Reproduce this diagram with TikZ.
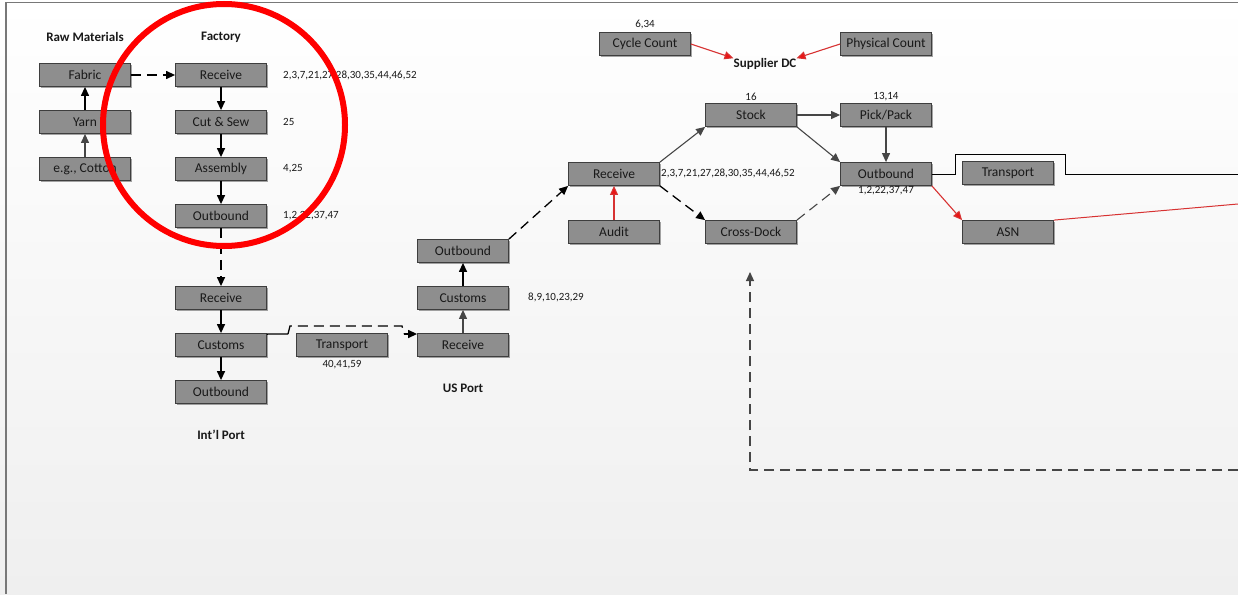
\documentclass[tikz,border=0pt]{standalone}
\usepackage{fontspec}
\setmainfont{Carlito}
\usetikzlibrary{arrows.meta,shadows}
\definecolor{boxfill}{RGB}{142,142,142}
\definecolor{boxdraw}{RGB}{62,62,62}
\definecolor{txt}{RGB}{25,25,25}
\definecolor{lgray}{RGB}{70,70,70}
\definecolor{thin}{RGB}{95,95,95}
\definecolor{redln}{RGB}{215,50,50}
\definecolor{redhd}{RGB}{235,20,20}
\definecolor{bgbot}{RGB}{239,239,239}
\definecolor{framecol}{RGB}{120,120,120}
\tikzset{
  box/.style={draw=boxdraw, fill=boxfill, line width=0.8pt, minimum width=91pt, minimum height=23pt, inner sep=0pt,
    text=txt, font=\fontsize{13.5}{15}\selectfont,
    drop shadow={shadow xshift=1.2pt, shadow yshift=-1.2pt, opacity=0.35, fill=black}},
  num/.style={text=txt, font=\fontsize{11}{12}\selectfont, inner sep=0pt},
  hdr/.style={text=txt, font=\fontsize{13}{15}\selectfont\bfseries, inner sep=1pt},
  tip/.style={-{Triangle[length=9pt,width=8pt]}},
  blk/.style={tip, draw=black, line width=1.3pt},
  gry/.style={tip, draw=lgray, line width=1.1pt},
  rdl/.style={-{Triangle[length=9pt,width=8pt,fill=redhd]}, draw=redln, line width=1.1pt},
  dsh/.style={dash pattern=on 10pt off 6pt},
}
\begin{document}
\begin{tikzpicture}[x=1pt,y=-1pt]
\useasboundingbox (0,0) rectangle (1238,594);
\shade[top color=white, bottom color=bgbot] (0,0) rectangle (1238,594);
\draw[framecol, line width=1.6pt] (6,594) -- (6,2.5) -- (1238,2.5);

% Raw materials
\node[hdr] (hraw) at (85,37) {Raw Materials};
\node[box] (fab) at (85,75) {Fabric};
\node[box] (yarn) at (85,122) {Yarn};
\node[box] (cot) at (85,169) {e.g., Cotton};
% Factory
\node[hdr] (hfac) at (221,37) {Factory};
\node[box] (frec) at (221,75) {Receive};
\node[box] (fcut) at (221,122) {Cut \& Sew};
\node[box] (fasm) at (221,169) {Assembly};
\node[box] (fout) at (221,216) {Outbound};
\node[num, anchor=west] (n1) at (283,75) {2,3,7,21,27,28,30,35,44,46,52};
\node[num, anchor=west] (n2) at (283,122) {25};
\node[num, anchor=west] (n3) at (283,169) {4,25};
\node[num, anchor=west] (n4) at (283,216) {1,2,22,37,47};
% Int'l port
\node[box] (irec) at (221,298) {Receive};
\node[box] (icus) at (221,345) {Customs};
\node[box] (iout) at (221,392) {Outbound};
\node[hdr] (hint) at (221,435) {Int’l Port};
\node[box] (trn) at (342,345) {Transport};
\node[num] (n5) at (342,365) {40,41,59};
% US port
\node[box] (urec) at (463,345) {Receive};
\node[box] (ucus) at (463,298) {Customs};
\node[box] (uout) at (463,251) {Outbound};
\node[num, anchor=west] (n6) at (528,297) {8,9,10,23,29};
\node[hdr] (hus) at (463,388) {US Port};
% Supplier DC
\node[box] (cc) at (645,44) {Cycle Count};
\node[num] (n7) at (645,24) {6,34};
\node[box] (pc) at (886,44) {Physical Count};
\node[hdr, inner sep=0pt] (sdc) at (765,64) {Supplier DC};
\node[box] (drec) at (614,174) {Receive};
\node[box] (aud) at (614,232) {Audit};
\node[num, anchor=west] (n8) at (661,173) {2,3,7,21,27,28,30,35,44,46,52};
\node[box] (stk) at (751,115) {Stock};
\node[num] (n9) at (751,97) {16};
\node[box] (pp) at (886,115) {Pick/Pack};
\node[num] (n10) at (886,97) {13,14};
\node[box] (xd) at (751,232) {Cross-Dock};
\node[box] (dout) at (886,174) {Outbound};
\node[num] (n11) at (886,191) {1,2,22,37,47};
\node[box] (rtrn) at (1008,173) {Transport};
\node[box] (asn) at (1008,232) {ASN};

% connectors: raw materials & factory
\draw[gry] (cot) -- (yarn);
\draw[blk] (yarn) -- (fab);
\draw[blk, dsh] (fab) -- (frec);
\draw[blk] (frec) -- (fcut);
\draw[blk] (fcut) -- (fasm);
\draw[blk] (fasm) -- (fout);
\draw[blk, dsh] (fout) -- (irec);
\draw[blk] (irec) -- (icus);
\draw[blk] (icus) -- (iout);
% int'l customs to US receive
\coordinate (j1) at (288,334);
\coordinate (j2) at (404,334);
\draw[black, line width=1.3pt] (icus.north east) ++(0,1) -- (j1);
\draw[black, line width=1.3pt, dash pattern=on 10pt off 6pt]
  (j1) -- (290,326) -- (402,326) -- (j2);
\draw[tip, black, line width=1.3pt] (j2) -- (urec.north west |- j2);
\draw[gry] (urec) -- (ucus);
\draw[blk] (ucus) -- (uout);
\draw[blk, dsh] (uout.north east) -- (drec.south west);
% DC
\draw[rdl] (aud) -- (drec);
\draw[gry] (drec.north east) -- (stk.south west);
\draw[blk, dsh] (drec.south east) -- (xd.north west);
\draw[gry] (stk) -- (pp);
\draw[gry] (stk.south east) -- (dout.north west);
\draw[gry] (pp) -- (dout);
\draw[gry, dsh] (xd.north east) -- (dout.south west);
\draw[rdl] (cc.east) -- (sdc.north west);
\draw[rdl] (pc.west) -- (sdc.north east);
\draw[rdl] (dout.south east) -- (asn.north west);
\coordinate (eT) at (1238,174);
\draw[thin, line width=0.9pt] (dout.east) -- (955,174) -- (955,154) -- (1065,154) -- (1065,174) -- (eT);
\coordinate (eA) at (1238,204);
\draw[redln, line width=1pt] (asn.north east) -- (eA);
\coordinate (fbS) at (1238,470);
\coordinate (fbE) at (750,272);
\draw[gry, dsh] (fbS) -- (750,470) -- (fbE);

% highlight circle
\draw[red, line width=6pt] (224,125) circle[radius=121pt];
\end{tikzpicture}
\end{document}
